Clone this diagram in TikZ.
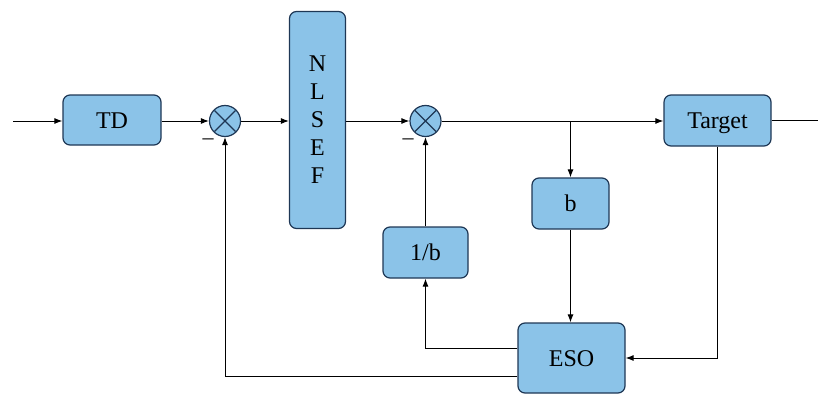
\documentclass[tikz,border=0pt]{standalone}
\usepackage{fontspec}
\setmainfont{Liberation Serif}
\newfontfamily\tmsfont{Liberation Serif}
\usetikzlibrary{arrows.meta,calc}
\definecolor{boxfill}{RGB}{139,195,232}
\definecolor{boxdraw}{RGB}{30,55,85}
\begin{document}
\begin{tikzpicture}[x=1pt,y=-1pt,
  blk/.style={draw=boxdraw,fill=boxfill,line width=1.2pt,rounded corners=7pt,inner sep=0pt,font=\tmsfont\fontsize{24}{28}\selectfont},
  one/.style={text height=16pt,text depth=0pt},
  sumc/.style={draw=boxdraw,fill=boxfill,line width=1.2pt,circle,minimum size=31pt,inner sep=0pt},
  arr/.style={line width=1pt,-{Latex[length=8pt,width=6pt]}},
  ln/.style={line width=1pt},
  minus/.style={font=\tmsfont\fontsize{22}{24}\selectfont,inner sep=0pt}]
\useasboundingbox (0,0) rectangle (818,396);
\node[blk,one,minimum width=98pt,minimum height=50pt] (td) at (112,120) {TD};
\node[sumc] (s1) at (225,121) {};
\draw[boxdraw,line width=1.2pt] ($(s1)+(-10.6,-10.6)$) -- ($(s1)+(10.6,10.6)$) ($(s1)+(-10.6,10.6)$) -- ($(s1)+(10.6,-10.6)$);
\node[blk,minimum width=56pt,minimum height=217pt,align=center] (nl) at (317.5,120) {\fontsize{24}{32.5}\selectfont N\\L\\S\\E\\F};
\node[sumc] (s2) at (425.5,121) {};
\draw[boxdraw,line width=1.2pt] ($(s2)+(-10.6,-10.6)$) -- ($(s2)+(10.6,10.6)$) ($(s2)+(-10.6,10.6)$) -- ($(s2)+(10.6,-10.6)$);
\node[blk,one,minimum width=107pt,minimum height=51pt] (tg) at (717.5,120.5) {Target};
\node[blk,one,minimum width=77pt,minimum height=51pt] (b) at (570.5,203.5) {b};
\node[blk,one,minimum width=85pt,minimum height=51pt] (ib) at (425.5,252.5) {1/b};
\node[blk,one,minimum width=107pt,minimum height=70pt] (eso) at (571.5,358) {ESO};
\node[minus] (m1) at (208,142) {–};
\node[minus] (m2) at (408,142) {–};
\coordinate (in) at (13,121);
\coordinate (out) at (818,120.5);
\coordinate (br) at (570.5,121);
\draw[arr] (in) -- (td.west|-in);
\draw[arr] (td.east|-s1) -- (s1.west);
\draw[arr] (s1.east) -- (nl.west|-s1);
\draw[arr] (nl.east|-s2) -- (s2.west);
\draw[arr] (s2.east) -- (tg.west|-s2);
\draw[ln] (tg.east) -- (out);
\draw[arr] (br) -- (b.north);
\draw[arr] (b.south) -- (b.south|-eso.north);
\draw[arr] (ib.north) -- (s2.south);
\draw[arr] ([yshift=10pt]eso.west) -| (ib.south);
\draw[arr] ([yshift=-18pt]eso.west) -| (s1.south);
\draw[arr] (tg.south) |- (eso.east);
\end{tikzpicture}
\end{document}
